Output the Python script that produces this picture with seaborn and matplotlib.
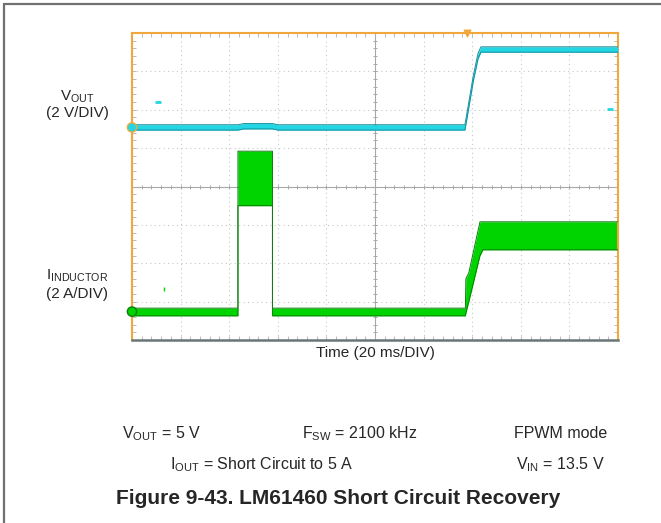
import numpy as np
import matplotlib.pyplot as plt
import seaborn as sns
from matplotlib.lines import Line2D

sns.set_style('white')
plt.rcParams['font.family'] = ['Liberation Sans', 'DejaVu Sans']
plt.rcParams['mathtext.fontset'] = 'custom'
plt.rcParams['mathtext.rm'] = 'Liberation Sans'
plt.rcParams['mathtext.it'] = 'Liberation Sans:italic'
plt.rcParams['mathtext.bf'] = 'Liberation Sans:bold'

# scope screen is 10 x 8 divisions, all values below in divisions
# V_OUT trace (cyan), centre of the trace
vout_t = [0.0, 2.18, 2.30, 2.89, 3.00, 6.85, 6.92, 7.02, 7.12, 7.18, 10.0]
vout_v = [5.54, 5.54, 5.57, 5.57, 5.54, 5.54, 6.05, 6.80, 7.40, 7.57, 7.57]

# inductor current (green), switching ripple envelope
il_t = [0.0, 2.18, 2.18, 2.89, 2.89, 6.86, 6.87, 6.93, 7.16, 7.22, 10.0]
il_lo = [0.63, 0.63, 3.50, 3.50, 0.63, 0.63, 0.70, 1.00, 2.20, 2.35, 2.35]
il_hi = [0.83, 0.83, 4.92, 4.92, 0.83, 0.83, 1.60, 1.75, 3.08, 3.08, 3.08]

# channel ground markers, trigger marker and stray scope marks
ch_t = [0.0, 0.0]
ch_v = [5.54, 0.74]
trig_t = [6.89]
trig_v = [8.0]
cyan_mark_t = [0.53, 9.84]
cyan_mark_v = [6.19, 6.03]
green_mark_t = [0.66]
green_mark_v = [1.32]

CYAN = '#22d6e4'
CYAN_EDGE = '#178f9c'
GREEN = '#00d400'
GREEN_EDGE = '#0b7d0b'
ORANGE = '#f0a83c'
VOUT_HALF = 0.07

fig = plt.figure(figsize=(6.61, 5.23), dpi=100)
ax = fig.add_axes([132 / 661, 1 - 340 / 523, (618 - 132) / 661, (340 - 33) / 523])
ax.set_xlim(0, 10)
ax.set_ylim(0, 8)

# graticule
for x in range(1, 10):
    if x != 5:
        ax.axvline(x, color='#c8c8c8', lw=0.8, ls=(0, (1, 3)), zorder=0)
for y in range(1, 8):
    if y != 4:
        ax.axhline(y, color='#c8c8c8', lw=0.8, ls=(0, (1, 3)), zorder=0)
ax.axvline(5, color='#a8a8a8', lw=0.8, zorder=0)
ax.axhline(4, color='#a8a8a8', lw=0.8, zorder=0)
minor_x = np.arange(0.2, 10, 0.2)
minor_y = np.arange(0.2, 8, 0.2)
ax.plot(minor_x, np.full_like(minor_x, 4), ls='none', marker='|', ms=3.5, mew=0.7, color='#a8a8a8', zorder=0)
ax.plot(np.full_like(minor_y, 5), minor_y, ls='none', marker='_', ms=3.5, mew=0.7, color='#a8a8a8', zorder=0)

# inductor current
ax.fill_between(il_t, il_lo, il_hi, color=GREEN, lw=0, zorder=2)
sns.lineplot(x=il_t, y=il_lo, estimator=None, sort=False, color=GREEN_EDGE, lw=0.7, ax=ax, zorder=3)
sns.lineplot(x=il_t, y=il_hi, estimator=None, sort=False, color=GREEN_EDGE, lw=0.7, ax=ax, zorder=3)

# output voltage
vlo = np.array(vout_v) - VOUT_HALF
vhi = np.array(vout_v) + VOUT_HALF
ax.fill_between(vout_t, vlo, vhi, color=CYAN, lw=0, zorder=4)
sns.lineplot(x=vout_t, y=vlo, estimator=None, sort=False, color=CYAN_EDGE, lw=0.7, ax=ax, zorder=5)
sns.lineplot(x=vout_t, y=vhi, estimator=None, sort=False, color=CYAN_EDGE, lw=0.7, ax=ax, zorder=5)

# markers
ax.scatter(ch_t, ch_v, s=45, c=[CYAN, GREEN], edgecolors=[ORANGE, GREEN_EDGE], linewidths=1, zorder=6, clip_on=False)
ax.scatter(trig_t, trig_v, s=22, marker='v', color=ORANGE, zorder=6, clip_on=False)
ax.scatter(cyan_mark_t, cyan_mark_v, s=14, marker='_', color=CYAN, linewidths=2, zorder=6)
ax.scatter(green_mark_t, green_mark_v, s=6, marker='|', color=GREEN, linewidths=1, zorder=6)

# frame
ax.set_xticks(range(0, 11))
ax.set_yticks(range(0, 9))
ax.set_xticks(minor_x, minor=True)
ax.set_yticks(minor_y, minor=True)
ax.set_xticklabels([])
ax.set_yticklabels([])
ax.tick_params(which='both', direction='in', length=3, width=0.6, color='#b0b0b0',
               top=True, bottom=True, left=True, right=True)
for side in ['top', 'left', 'right']:
    ax.spines[side].set_color(ORANGE)
    ax.spines[side].set_linewidth(1.5)
ax.spines['bottom'].set_color('#6a7676')
ax.spines['bottom'].set_linewidth(1.8)

def px(x, y):
    return x / 661, 1 - y / 523

fs = 11
fs_cond = 11.5
fig.text(*px(77, 97), r'V$_{\mathrm{OUT}}$', ha='center', va='center', fontsize=fs)
fig.text(*px(77, 113), '(2 V/DIV)', ha='center', va='center', fontsize=fs)
fig.text(*px(77, 276), r'I$_{\mathrm{INDUCTOR}}$', ha='center', va='center', fontsize=fs)
fig.text(*px(77, 294), '(2 A/DIV)', ha='center', va='center', fontsize=fs)
fig.text(*px(375, 353), 'Time (20 ms/DIV)', ha='center', va='center', fontsize=fs)

fig.text(*px(122, 434), r'V$_{\mathrm{OUT}}$ = 5 V', ha='left', va='center', fontsize=fs_cond)
fig.text(*px(302, 434), r'F$_{\mathrm{SW}}$ = 2100 kHz', ha='left', va='center', fontsize=fs_cond)
fig.text(*px(607, 434), 'FPWM mode', ha='right', va='center', fontsize=fs_cond)
fig.text(*px(170, 465), r'I$_{\mathrm{OUT}}$ = Short Circuit to 5 A', ha='left', va='center', fontsize=fs_cond)
fig.text(*px(605, 465), r'V$_{\mathrm{IN}}$ = 13.5 V', ha='right', va='center', fontsize=fs_cond)
fig.text(*px(338, 499), 'Figure 9-43. LM61460 Short Circuit Recovery', ha='center', va='center',
         fontsize=15, fontweight='bold')

# datasheet figure box (left and top edges)
fig.add_artist(Line2D([4 / 661, 4 / 661], [0, 1 - 4 / 523], color='#707070', lw=1.6))
fig.add_artist(Line2D([4 / 661, 1], [1 - 4 / 523, 1 - 4 / 523], color='#707070', lw=1.6))

plt.savefig('out.png', dpi=100)
